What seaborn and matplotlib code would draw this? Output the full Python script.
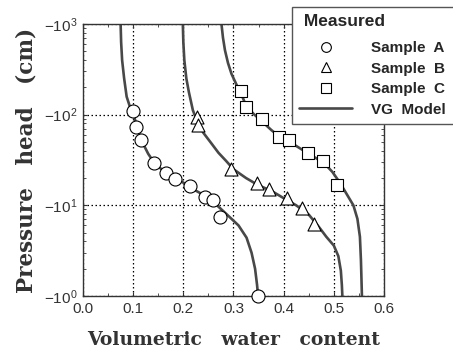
import matplotlib
matplotlib.use("Agg")
import matplotlib.pyplot as plt
from matplotlib.lines import Line2D
from matplotlib.ticker import MultipleLocator, FixedLocator
import seaborn as sns

# Measured points (theta, |pressure head| in cm)
theta_a = [0.100, 0.106, 0.116, 0.141, 0.165, 0.183, 0.213, 0.243, 0.259, 0.273, 0.349]
head_a = [110, 74, 52, 29.5, 23, 19.5, 16.4, 12.4, 11.5, 7.5, 1.0]
theta_b = [0.227, 0.229, 0.296, 0.347, 0.371, 0.406, 0.436, 0.461]
head_b = [95, 76, 25, 17.5, 15, 11.9, 9.3, 6.2]
theta_c = [0.314, 0.324, 0.356, 0.391, 0.411, 0.449, 0.479, 0.506]
head_c = [182, 120, 89, 56, 52.5, 38, 31, 16.7]

# VG model curves
vg_theta_a = [0.075, 0.076, 0.078, 0.082, 0.087, 0.094, 0.102, 0.110, 0.118, 0.130, 0.142, 0.160,
              0.180, 0.200, 0.225, 0.245, 0.259, 0.285, 0.310, 0.326, 0.336, 0.343, 0.347, 0.349]
vg_head_a = [1000, 631, 398, 251, 158, 120, 95, 66, 50, 37, 29.5, 24,
             20.4, 17.8, 14.5, 12.6, 11, 8.1, 6.0, 4.4, 3.0, 2.0, 1.32, 1.0]
vg_theta_b = [0.199, 0.200, 0.202, 0.206, 0.211, 0.219, 0.228, 0.240, 0.255, 0.270, 0.285, 0.300, 0.325,
              0.350, 0.375, 0.400, 0.425, 0.450, 0.470, 0.485, 0.500, 0.509, 0.514, 0.516, 0.517]
vg_head_b = [1000, 631, 398, 251, 178, 112, 83, 63, 49, 38, 31, 25, 20,
             16.6, 14.5, 12, 10, 7.9, 5.8, 4.5, 3.6, 2.75, 1.9, 1.32, 1.0]
vg_theta_c = [0.276, 0.279, 0.283, 0.289, 0.296, 0.306, 0.316, 0.325, 0.340, 0.356, 0.375, 0.395,
              0.420, 0.450, 0.480, 0.497, 0.512, 0.526, 0.539, 0.547, 0.552, 0.554, 0.555, 0.556]
vg_head_c = [1000, 708, 513, 372, 282, 214, 166, 126, 102, 85, 68, 55,
             47, 37, 29.5, 23.4, 17.8, 13.2, 10, 7.1, 4.5, 2.5, 1.6, 1.0]

x_ticks = [0.0, 0.1, 0.2, 0.3, 0.4, 0.5, 0.6]
y_ticks = [1, 10, 100, 1000]
y_tick_labels = [r"$-10^{0}$", r"$-10^{1}$", r"$-10^{2}$", r"$-10^{3}$"]

sns.set_style("ticks")
plt.rcParams["font.family"] = ["Liberation Sans", "DejaVu Sans"]
plt.rcParams["mathtext.fontset"] = "custom"
plt.rcParams["mathtext.rm"] = "Liberation Sans"
plt.rcParams["mathtext.it"] = "Liberation Sans:italic"
plt.rcParams["mathtext.bf"] = "Liberation Sans:bold"

fig = plt.figure(figsize=(4.53, 3.59), dpi=100)
ax = fig.add_axes([83 / 453, 63 / 359, 301 / 453, 272 / 359])

curve_col = "#484848"
for th, hd in [(vg_theta_a, vg_head_a), (vg_theta_b, vg_head_b), (vg_theta_c, vg_head_c)]:
    sns.lineplot(x=th, y=hd, sort=False, estimator=None, color=curve_col, lw=1.9, ax=ax, zorder=2)

pts = [(theta_a, head_a, "o", 88), (theta_b, head_b, "^", 88), (theta_c, head_c, "s", 68)]
for th, hd, mk, sz in pts:
    sns.scatterplot(x=th, y=hd, marker=mk, s=sz, facecolor="white", edgecolor="black",
                    linewidth=0.8, ax=ax, zorder=3, clip_on=False)

ax.set_yscale("log")
ax.set_xlim(0, 0.6)
ax.set_ylim(1, 1000)
ax.set_xticks(x_ticks)
ax.set_xticklabels([f"{v:.1f}" for v in x_ticks], fontsize=11)
ax.xaxis.set_minor_locator(MultipleLocator(0.05))
ax.yaxis.set_major_locator(FixedLocator(y_ticks))
ax.set_yticklabels(y_tick_labels, fontsize=11)
ax.tick_params(which="both", direction="in", top=True, right=True, colors="#333333")
ax.tick_params(which="major", length=3, width=0.8, pad=4)
ax.tick_params(which="minor", length=2, width=0.6)
ax.grid(which="major", ls=(0, (1.2, 2)), color="black", lw=0.9)
for sp in ax.spines.values():
    sp.set_color("#333333")
    sp.set_linewidth(1.0)

ax.set_xlabel("Volumetric   water   content", fontsize=13.5, fontweight="bold",
              family="DejaVu Serif", color="#333333", labelpad=11)
ax.set_ylabel("Pressure   head   (cm)", fontsize=15.5, fontweight="bold",
              family="DejaVu Serif", color="#333333", labelpad=5)

handles = [
    Line2D([], [], ls="none", marker="o", ms=7, mfc="white", mec="black", mew=0.8),
    Line2D([], [], ls="none", marker="^", ms=7.5, mfc="white", mec="black", mew=0.8),
    Line2D([], [], ls="none", marker="s", ms=6.5, mfc="white", mec="black", mew=0.8),
    Line2D([], [], color=curve_col, lw=1.9),
]
labels = ["Sample  A", "Sample  B", "Sample  C", "VG  Model"]
leg = fig.legend(handles, labels, title=" Measured", loc="upper left",
                 bbox_to_anchor=(292 / 453, 0, 0.4, 1 - 7 / 359), mode="expand",
                 borderaxespad=0, frameon=True, fancybox=False,
                 framealpha=1, edgecolor="#555555", handlelength=3.5, handletextpad=1.2,
                 labelspacing=0.42, borderpad=0.45, alignment="left",
                 prop={"weight": "bold", "size": 11},
                 title_fontproperties={"weight": "bold", "size": 12.5})
leg.get_frame().set_linewidth(1.0)
leg._legend_box.sep = 9

fig.savefig("out.png", dpi=100)
